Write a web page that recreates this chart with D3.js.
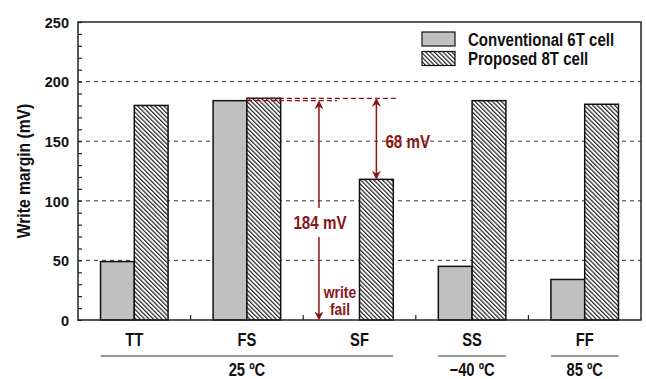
<!DOCTYPE html>
<html>
<head>
<meta charset="utf-8">
<script src="https://cdn.jsdelivr.net/npm/d3@7"></script>
<style>
  body { margin: 0; background: #fff; }
  text { font-family: "Liberation Sans", Arial, sans-serif; font-weight: bold; }
</style>
</head>
<body>
<div id="chart"></div>
<script>
// data
var categories = ["TT", "FS", "SF", "SS", "FF"];
var conventional = [49, 184, 0, 45, 34];
var proposed = [180, 186, 118, 184, 181];
var yTicks = [0, 50, 100, 150, 200, 250];
var groupLabels = ["25 \u00BAC", "\u221240 \u00BAC", "85 \u00BAC"];
var groupFirst = ["TT", "SS", "FF"];
var groupLast = ["SF", "SS", "FF"];
var groupCenter = ["FS", "SS", "FF"];
var seriesNames = ["Conventional 6T cell", "Proposed 8T cell"];

var width = 646, height = 379;
var margin = {top: 22, right: 5, bottom: 59, left: 78};
var red = "#8b1515";
var narrow = 0.82; // the picture uses a condensed bold face

var svg = d3.select("#chart")
  .append("svg")
    .attr("width", width)
    .attr("height", height);

// condensed text helper
function txt(g, x, y, s, size, anchor, color, f, rot) {
  return g.append("text")
    .attr("transform", "translate(" + x + "," + y + ")" + (rot ? " rotate(" + rot + ")" : "") +
          " scale(" + (f || narrow) + ",1)")
    .attr("text-anchor", anchor)
    .attr("font-size", size)
    .attr("fill", color)
    .text(s);
}

var defs = svg.append("defs");
var pat = defs.append("pattern")
    .attr("id", "hatch")
    .attr("patternUnits", "userSpaceOnUse")
    .attr("width", 3.1)
    .attr("height", 3.1)
    .attr("patternTransform", "rotate(-45)");
pat.append("rect").attr("width", 3.1).attr("height", 3.1).attr("fill", "#fff");
pat.append("line")
    .attr("x1", 0.6).attr("y1", 0).attr("x2", 0.6).attr("y2", 3.1)
    .attr("stroke", "#1a1a1a").attr("stroke-width", 1.15);

function marker(id, path) {
  defs.append("marker")
      .attr("id", id)
      .attr("viewBox", "0 0 10 10")
      .attr("refX", 5).attr("refY", 5)
      .attr("markerWidth", 9).attr("markerHeight", 9)
      .attr("markerUnits", "userSpaceOnUse")
      .attr("orient", "auto")
    .append("path")
      .attr("d", path)
      .attr("fill", red);
}
marker("arrEnd", "M0,0 L10,5 L0,10 L3,5 Z");
marker("arrStart", "M10,0 L0,5 L10,10 L7,5 Z");

var x = d3.scaleBand()
  .domain(categories)
  .range([margin.left, width - margin.right]);
var y = d3.scaleLinear()
  .domain([0, 250])
  .range([height - margin.bottom, margin.top]);

var x0 = margin.left, x1 = width - margin.right;
var y0 = y(0), y1 = y(250);
var bw = x.bandwidth() * 0.3;

// dashed grid lines
svg.append("g")
  .selectAll("line")
  .data([50, 100, 150, 200])
  .enter().append("line")
    .attr("x1", x0).attr("x2", x1)
    .attr("y1", function(d) { return y(d); })
    .attr("y2", function(d) { return y(d); })
    .attr("stroke", "#333")
    .attr("stroke-width", 1)
    .attr("stroke-dasharray", "4,4");

// bars
svg.append("g")
  .selectAll("rect")
  .data(categories.filter(function(d, i) { return conventional[i] > 0; }))
  .enter().append("rect")
    .attr("x", function(d) { return x(d) + x.bandwidth() / 2 - bw; })
    .attr("y", function(d) { return y(conventional[categories.indexOf(d)]); })
    .attr("width", bw)
    .attr("height", function(d) { return y0 - y(conventional[categories.indexOf(d)]); })
    .attr("fill", "#c0c0c0")
    .attr("stroke", "#111")
    .attr("stroke-width", 1.5);

svg.append("g")
  .selectAll("rect")
  .data(categories)
  .enter().append("rect")
    .attr("x", function(d) { return x(d) + x.bandwidth() / 2; })
    .attr("y", function(d, i) { return y(proposed[i]); })
    .attr("width", bw)
    .attr("height", function(d, i) { return y0 - y(proposed[i]); })
    .attr("fill", "url(#hatch)")
    .attr("stroke", "#111")
    .attr("stroke-width", 1.5);

// y axis with minor ticks inside
var yAxis = d3.axisLeft(y)
  .tickValues(d3.range(0, 251, 10))
  .tickSize(-4)
  .tickFormat(function(d) { return yTicks.indexOf(d) >= 0 ? d : ""; });
var gy = svg.append("g")
  .attr("transform", "translate(" + x0 + ",0)")
  .call(yAxis);
gy.select(".domain").remove();
gy.selectAll(".tick line").attr("stroke", "#222").attr("stroke-width", 1.2);
gy.selectAll(".tick text")
  .attr("x", -9)
  .attr("dy", "0.36em")
  .attr("font-size", 14.5)
  .attr("fill", "#111");

// category labels
var gx = svg.append("g");
categories.forEach(function(c) {
  txt(gx, x(c) + x.bandwidth() / 2, 346, c, 18, "middle", "#111");
});

// small ticks on band boundaries
svg.append("g")
  .selectAll("line")
  .data(categories.slice(1))
  .enter().append("line")
    .attr("x1", function(d) { return x(d); })
    .attr("x2", function(d) { return x(d); })
    .attr("y1", y0).attr("y2", y0 - 5)
    .attr("stroke", "#222").attr("stroke-width", 1.2);

// frame
svg.append("rect")
  .attr("x", x0).attr("y", y1)
  .attr("width", x1 - x0).attr("height", y0 - y1)
  .attr("fill", "none")
  .attr("stroke", "#222")
  .attr("stroke-width", 1.5);

// temperature groups
groupLabels.forEach(function(lbl, i) {
  var a = x(groupFirst[i]) + x.bandwidth() / 2 - bw;
  var b = x(groupLast[i]) + x.bandwidth() / 2 + bw;
  var mid = x(groupCenter[i]) + x.bandwidth() / 2;
  svg.append("line")
    .attr("x1", a).attr("x2", b)
    .attr("y1", 356).attr("y2", 356)
    .attr("stroke", "#333").attr("stroke-width", 1.2);
  txt(svg, mid, 376, lbl, 18, "middle", "#111");
});

// y title
txt(svg, 30, (y1 + y0) / 2, "Write margin (mV)", 18, "middle", "#111", 0.87, -90);

// legend
var legend = svg.append("g");
var legFill = ["#c0c0c0", "url(#hatch)"];
seriesNames.forEach(function(name, i) {
  legend.append("rect")
    .attr("x", 422).attr("y", 32 + i * 19.5)
    .attr("width", 33).attr("height", 14)
    .attr("fill", legFill[i])
    .attr("stroke", "#111")
    .attr("stroke-width", 1.2);
  txt(legend, 468, 45.5 + i * 19.5, name, 18, "start", "#111", 0.835);
});

// annotations
var fsHatchLeft = x("FS") + x.bandwidth() / 2;
var sfHatchMid = x("SF") + x.bandwidth() / 2 + bw / 2;
var failX = x("SF") + x.bandwidth() * 0.14;
var ann = svg.append("g");
ann.append("line")
  .attr("x1", fsHatchLeft).attr("x2", x("SF") + x.bandwidth() / 2 + bw + 4)
  .attr("y1", y(proposed[1])).attr("y2", y(proposed[1]))
  .attr("stroke", red).attr("stroke-width", 1.2).attr("stroke-dasharray", "5,3");
ann.append("line")
  .attr("x1", fsHatchLeft).attr("x2", failX + 18)
  .attr("y1", y(conventional[1])).attr("y2", y(conventional[1]))
  .attr("stroke", red).attr("stroke-width", 1.2).attr("stroke-dasharray", "5,3");

// 184 mV arrow, with a gap behind its label
ann.append("line")
  .attr("x1", failX).attr("x2", failX)
  .attr("y1", y(conventional[1]) + 4).attr("y2", 208)
  .attr("stroke", red).attr("stroke-width", 1.5)
  .attr("marker-start", "url(#arrStart)");
ann.append("line")
  .attr("x1", failX).attr("x2", failX)
  .attr("y1", 237).attr("y2", y0 - 4)
  .attr("stroke", red).attr("stroke-width", 1.5)
  .attr("marker-end", "url(#arrEnd)");
txt(ann, failX + 1, 229, (conventional[1] - conventional[2]) + " mV", 18.5, "middle", red);
txt(ann, failX + 21, 298, "write", 17, "middle", red);
txt(ann, failX + 21, 315, "fail", 17, "middle", red);

// 68 mV arrow
ann.append("line")
  .attr("x1", sfHatchMid).attr("x2", sfHatchMid)
  .attr("y1", y(proposed[1]) + 4).attr("y2", y(proposed[2]) - 4)
  .attr("stroke", red).attr("stroke-width", 1.5)
  .attr("marker-start", "url(#arrStart)")
  .attr("marker-end", "url(#arrEnd)");
txt(ann, sfHatchMid + 9, y(150) + 6.5, (proposed[1] - proposed[2]) + " mV", 18.5, "start", red);
</script>
</body>
</html>
